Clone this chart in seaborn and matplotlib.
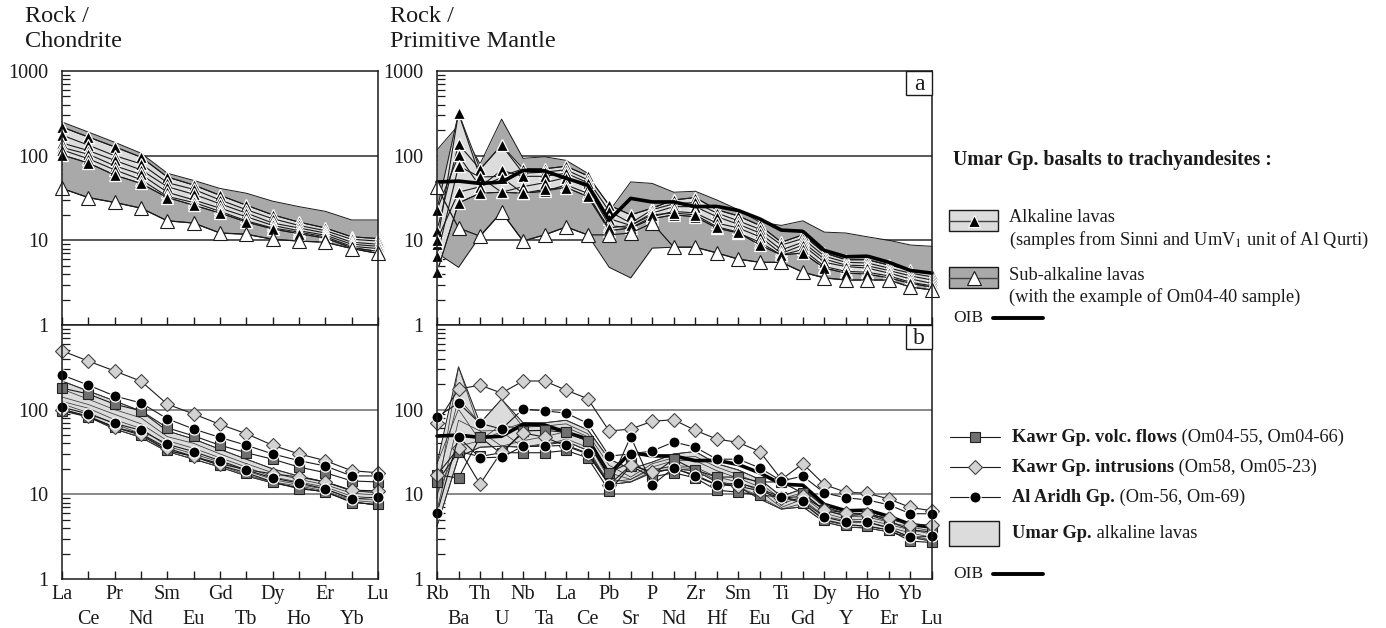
import numpy as np
import matplotlib
matplotlib.use("Agg")
import matplotlib.pyplot as plt
import seaborn as sns
from matplotlib.patches import Rectangle
from matplotlib.ticker import LogLocator, NullFormatter, FixedLocator

sns.set_theme(style="white")
plt.rcParams["font.family"] = ["Liberation Serif", "DejaVu Serif"]
plt.rcParams["mathtext.fontset"] = "stix"

# ---------------------------------------------------------------- elements
REE = ["La", "Ce", "Pr", "Nd", "Sm", "Eu", "Gd", "Tb", "Dy", "Ho", "Er", "Yb", "Lu"]
PM = ["Rb", "Ba", "Th", "U", "Nb", "Ta", "La", "Ce", "Pb", "Sr", "P", "Nd",
      "Zr", "Hf", "Sm", "Eu", "Ti", "Gd", "Dy", "Y", "Ho", "Er", "Yb", "Lu"]

# ------------------------------------------- Umar Gp. alkaline lavas (REE / chondrite)
umar_alk_ree_1 = [218, 166, 127, 96, 56, 45, 34, 26, 20, 16.4, 14.0, 11.0, 10.5]
umar_alk_ree_2 = [175, 133, 100, 80, 48, 40, 30, 23, 18, 15.0, 13.0, 10.3, 9.8]
umar_alk_ree_3 = [141, 115, 88, 68, 43, 35, 27, 21, 16, 14.0, 12.2, 9.5, 9.0]
umar_alk_ree_4 = [125, 104, 76, 60, 37, 30, 24, 19, 15, 13.0, 11.5, 9.0, 8.5]
umar_alk_ree_5 = [117, 92, 68, 52, 33, 28, 22, 17, 14, 12.5, 11.0, 8.5, 8.0]
umar_alk_ree_6 = [102, 82, 59, 47, 32, 26, 21, 16.5, 13.6, 12.0, 10.6, 8.2, 7.4]

# ------------------------------------------- Umar Gp. sub-alkaline lavas (REE)
om04_40_ree = [41, 32, 28, 24, 17, 16, 12.2, 11.8, 10.3, 9.8, 9.5, 8.0, 7.0]
subalk_ree_top = [250, 190, 144, 107, 62, 51, 41, 36, 29, 25, 22, 17.4, 17.4]

# ------------------------------------------- Umar Gp. alkaline lavas (primitive mantle)
umar_alk_pm_1 = [9, 320, 56, 57, 70, 70, 75, 58, 26, 20, 24, 30, 32, 23, 19.4, 15, 9.5, 11.6, 7.1, 5.9, 5.9, 5.1, 4.5, 4.0]
umar_alk_pm_2 = [13, 137, 69, 133, 62, 64, 68, 52, 22, 16, 23, 27, 28, 21, 17, 13.5, 8.8, 10.5, 6.5, 5.5, 5.4, 4.7, 4.1, 3.7]
umar_alk_pm_3 = [23, 101, 43, 67, 57, 57, 62, 48, 18, 15, 21, 25, 25, 19, 15.5, 12.2, 7.7, 9.5, 6.0, 5.1, 5.0, 4.4, 3.8, 3.4]
umar_alk_pm_4 = [6.5, 75, 56, 37, 43, 48, 55, 42, 15, 14, 19, 22, 21, 16, 14, 11, 7.0, 8.8, 5.5, 4.9, 4.7, 4.1, 3.5, 3.1]
umar_alk_pm_5 = [10, 37, 43, 55, 36, 38, 45, 36, 13, 14, 18, 20, 19, 14, 12.2, 9.5, 6.7, 7.8, 4.9, 4.3, 4.2, 3.8, 3.2, 2.9]
umar_alk_pm_6 = [4.2, 27.6, 36, 37, 36, 40, 42, 33, 14, 15, 20, 21, 20, 14.5, 12.5, 8.8, 6.7, 7.1, 4.7, 4.1, 4.0, 3.6, 3.1, 2.8]

# ------------------------------------------- Umar Gp. sub-alkaline lavas (PM)
om04_40_pm = [43, 14, 11.2, 21.6, 9.8, 11.6, 14.4, 11.6, 11.6, 12.2, 16, 8.3, 8.3, 7.1, 6.0, 5.5, 5.5, 4.2, 3.6, 3.4, 3.4, 3.4, 2.8, 2.6]
subalk_pm_top = [117, 230, 80, 270, 93, 97, 88, 62, 22, 49, 47, 37, 38, 30, 23, 16.4, 15, 17, 12.5, 12.2, 11, 10, 8.8, 8.5]
subalk_pm_bottom = [7.1, 4.8, 11.2, 21.6, 9.8, 11.6, 14.4, 11.6, 4.8, 3.6, 8.1, 8.3, 8.3, 7.1, 6.0, 5.5, 5.5, 4.2, 3.6, 3.4, 3.4, 3.4, 2.8, 2.6]

# ------------------------------------------- OIB (primitive-mantle normalised)
oib_pm = [48.8, 50.1, 47.0, 48.6, 67, 66, 54, 45, 17.3, 31.3, 28.4, 28.4, 25, 25.2, 22.5, 17.9, 13.2, 12.8, 7.6, 6.4, 6.5, 5.5, 4.4, 4.1]

# ------------------------------------------- Kawr Gp. volcanic flows
om04_55_ree = [180, 153, 116, 97, 61, 49, 38, 31, 26, 21, 18, 14.4, 14]
om04_66_ree = [97, 82, 62, 50, 33, 28, 22, 18, 14, 11.6, 10.8, 8.0, 7.6]
om04_55_pm = [17, 15.6, 47.5, 30, 56, 57, 54, 43, 18, 24, 17, 26, 19.4, 16, 16, 14, 14, 10.3, 6.5, 5.6, 5.8, 4.8, 3.8, 3.6]
om04_66_pm = [14, 32, 28, 31, 31, 31, 33, 27, 11, 21.6, 16, 18, 15.6, 11.2, 10.6, 9.8, 9.3, 7.9, 5.0, 4.4, 4.2, 3.8, 2.8, 2.7]

# ------------------------------------------- Kawr Gp. intrusions
om58_ree = [495, 375, 286, 217, 116, 89, 67, 52, 38, 30, 25, 19, 18]
om05_23_ree = [100, 84, 62, 52, 35, 28, 23, 19.5, 17.5, 16, 14, 11.2, 11]
om58_pm = [69, 175, 195, 157, 218, 218, 170, 135, 56, 59, 73, 76, 57, 45, 41, 32, 15, 23, 13, 10.6, 10.3, 8.8, 7.0, 6.4]
om05_23_pm = [17, 35, 13.2, 32, 53, 47.5, 37, 30, 13, 22, 18.4, 20, 17, 13, 12.5, 11, 9.0, 9.5, 6.6, 6.0, 5.8, 5.2, 4.4, 4.3]

# ------------------------------------------- Al Aridh Gp.
om56_ree = [257, 195, 145, 120, 78, 59, 47, 38, 30, 25, 21.6, 16.5, 16.5]
om69_ree = [107, 89, 69, 57, 39, 32, 25, 19.4, 15.6, 13.6, 11.6, 8.8, 9.3]
om56_pm = [82, 120, 69, 59, 102, 97, 91, 69, 28.3, 30, 32.5, 41.5, 36, 26, 26, 20.5, 14.4, 16.4, 10.4, 9.1, 8.6, 7.5, 5.9, 5.9]
om69_pm = [6, 47.5, 27, 27.5, 37, 37, 38, 30.7, 12.9, 48, 12.9, 20.5, 16.4, 12.9, 13.6, 11.6, 9.3, 8.3, 5.4, 4.7, 4.7, 4.0, 3.1, 3.2]

umar_alk_ree = [umar_alk_ree_1, umar_alk_ree_2, umar_alk_ree_3,
                umar_alk_ree_4, umar_alk_ree_5, umar_alk_ree_6]
umar_alk_pm = [umar_alk_pm_1, umar_alk_pm_2, umar_alk_pm_3,
               umar_alk_pm_4, umar_alk_pm_5, umar_alk_pm_6]

# ---------------------------------------------------------------- styles
DARK_BAND = "#a9a9a9"
LIGHT_BAND = "#dcdcdc"
INK = "#1a1a1a"
SQUARE_FILL = "#707070"
DIAMOND_FILL = "#d2d2d2"
TICK_FS = 14.5

W, H = 1386, 628
fig = plt.figure(figsize=(W / 100, H / 100), dpi=100)


def px_axes(x0, y0, x1, y1):
    return fig.add_axes([x0 / W, 1 - y1 / H, (x1 - x0) / W, (y1 - y0) / H])


ax_ree_a = px_axes(62, 71, 378, 325)
ax_pm_a = px_axes(437, 71, 932, 325)
ax_ree_b = px_axes(62, 325, 378, 579)
ax_pm_b = px_axes(437, 325, 932, 579)


def style_axis(ax, names, show_x, yvals, grid_color):
    n = len(names)
    ax.set_yscale("log")
    ax.set_ylim(1, 1000)
    ax.set_xlim(0, n - 1)
    ax.set_facecolor("white")
    for s in ax.spines.values():
        s.set_color(INK)
        s.set_linewidth(1.1)
        s.set_zorder(6)
    # element names on two staggered rows: even positions on the first row,
    # odd positions on the second
    even = list(range(0, n, 2))
    odd = list(range(1, n, 2))
    ax.xaxis.set_major_locator(FixedLocator(even))
    ax.xaxis.set_minor_locator(FixedLocator(odd))
    if show_x:
        ax.set_xticklabels([names[i] for i in even], fontsize=TICK_FS, color=INK)
        ax.set_xticklabels([names[i] for i in odd], minor=True,
                           fontsize=TICK_FS, color=INK)
    else:
        ax.set_xticklabels([])
        ax.set_xticklabels([], minor=True)
    ax.tick_params(axis="x", which="major", direction="in", length=6, width=1.0,
                   pad=4, color=INK, bottom=True, top=False)
    ax.tick_params(axis="x", which="minor", direction="in", length=6, width=1.0,
                   pad=22, color=INK, bottom=True, top=False)
    ax.yaxis.set_major_locator(FixedLocator([1, 10, 100, 1000]))
    ax.set_yticklabels([(str(v) if v in yvals else "") for v in (1, 10, 100, 1000)],
                       fontsize=TICK_FS, color=INK)
    ax.yaxis.set_minor_locator(LogLocator(base=10, subs=range(2, 10)))
    ax.yaxis.set_minor_formatter(NullFormatter())
    ax.tick_params(axis="y", which="major", length=0, pad=10, left=True)
    ax.tick_params(axis="y", which="minor", direction="in", length=6, width=0.9,
                   color=INK, left=True)
    for v in (10, 100):
        ax.axhline(v, color=grid_color, lw=1.1, zorder=0.5)
    ax.grid(False)


def series(ax, vals, **kw):
    x = np.arange(len(vals))
    base = dict(estimator=None, sort=False, legend=False, clip_on=False)
    base.update(kw)
    sns.lineplot(x=x, y=vals, ax=ax, **base)


def band(ax, lo, hi, color, z):
    x = np.arange(len(lo))
    ax.fill_between(x, lo, hi, color=color, lw=0, zorder=z)
    series(ax, lo, color=INK, lw=0.7, zorder=z + 0.1)
    series(ax, hi, color=INK, lw=0.7, zorder=z + 0.1)


def alk_lines(ax, samples, markers=True, z=3):
    for s in samples:
        if markers:
            series(ax, s, color=INK, lw=0.8, marker="^", markersize=8,
                   markerfacecolor="black", markeredgecolor="white",
                   markeredgewidth=0.9, zorder=z)
        else:
            series(ax, s, color="#3a3a3a", lw=0.55, zorder=z)


# ---------------------------------------------------------------- panel a : REE
ax = ax_ree_a
style_axis(ax, REE, False, (1, 10, 100, 1000), "#2a2a2a")
band(ax, om04_40_ree, subalk_ree_top, DARK_BAND, 1)
alk_ree_arr = np.array(umar_alk_ree, dtype=float)
band(ax, alk_ree_arr.min(axis=0), alk_ree_arr.max(axis=0), LIGHT_BAND, 2)
alk_lines(ax, umar_alk_ree)
series(ax, om04_40_ree, color=INK, lw=0.9, marker="^", markersize=9.5,
       markerfacecolor="white", markeredgecolor=INK, markeredgewidth=0.8, zorder=5)

# ---------------------------------------------------------------- panel a : PM
ax = ax_pm_a
style_axis(ax, PM, False, (1, 10, 100, 1000), "#2a2a2a")
band(ax, subalk_pm_bottom, subalk_pm_top, DARK_BAND, 1)
alk_pm_arr = np.array(umar_alk_pm, dtype=float)
band(ax, alk_pm_arr.min(axis=0), alk_pm_arr.max(axis=0), LIGHT_BAND, 2)
alk_lines(ax, umar_alk_pm)
series(ax, oib_pm, color="black", lw=2.6, zorder=3.5)
series(ax, om04_40_pm, color=INK, lw=0.9, marker="^", markersize=9.5,
       markerfacecolor="white", markeredgecolor=INK, markeredgewidth=0.8, zorder=5)


# ---------------------------------------------------------------- panel b
def kawr_volc(ax, vals):
    series(ax, vals, color=INK, lw=0.8, marker="s", markersize=7.5,
           markerfacecolor=SQUARE_FILL, markeredgecolor="#222222",
           markeredgewidth=0.8, zorder=4)


def kawr_intr(ax, vals):
    series(ax, vals, color=INK, lw=0.8, marker="D", markersize=7,
           markerfacecolor=DIAMOND_FILL, markeredgecolor="#444444",
           markeredgewidth=0.8, zorder=4.2)


def al_aridh(ax, vals):
    series(ax, vals, color=INK, lw=0.8, marker="o", markersize=8,
           markerfacecolor="black", markeredgecolor="white",
           markeredgewidth=0.9, zorder=4.4)


ax = ax_ree_b
style_axis(ax, REE, True, (1, 10, 100), "#6a6a6a")
band(ax, alk_ree_arr.min(axis=0), alk_ree_arr.max(axis=0), LIGHT_BAND, 1)
alk_lines(ax, umar_alk_ree, markers=False, z=1.5)
for v in (om04_55_ree, om04_66_ree):
    kawr_volc(ax, v)
for v in (om58_ree, om05_23_ree):
    kawr_intr(ax, v)
for v in (om56_ree, om69_ree):
    al_aridh(ax, v)

ax = ax_pm_b
style_axis(ax, PM, True, (1, 10, 100), "#6a6a6a")
band(ax, alk_pm_arr.min(axis=0), alk_pm_arr.max(axis=0), LIGHT_BAND, 1)
alk_lines(ax, umar_alk_pm, markers=False, z=1.5)
series(ax, oib_pm, color="black", lw=2.6, zorder=3)
for v in (om04_55_pm, om04_66_pm):
    kawr_volc(ax, v)
for v in (om58_pm, om05_23_pm):
    kawr_intr(ax, v)
for v in (om56_pm, om69_pm):
    al_aridh(ax, v)

# ---------------------------------------------------------------- panel tags
for ax, tag in ((ax_pm_a, "a"), (ax_pm_b, "b")):
    bw, bh = 26 / 495, 24 / 254
    ax.add_patch(Rectangle((1 - bw, 1 - bh), bw, bh, transform=ax.transAxes,
                           facecolor="white", edgecolor=INK, lw=1.0, zorder=7,
                           clip_on=False))
    ax.text(1 - bw / 2, 1 - bh / 2 - 0.006, tag, transform=ax.transAxes,
            ha="center", va="center", fontsize=17, color=INK, zorder=8)

# ---------------------------------------------------------------- axis titles
fig.text(25 / W, 1 - 29 / H, "Rock /\nChondrite", ha="left", va="center",
         fontsize=17.5, color=INK, linespacing=1.2)
fig.text(390 / W, 1 - 29 / H, "Rock /\nPrimitive Mantle", ha="left", va="center",
         fontsize=17.5, color=INK, linespacing=1.2)

# ---------------------------------------------------------------- key
lax = fig.add_axes([0, 0, 1, 1], zorder=10)
lax.set_xlim(0, W)
lax.set_ylim(H, 0)
lax.axis("off")
lax.patch.set_alpha(0)

FS_TOP = 13.2
FS_BOT = 13.2


def bold_then_plain(x, y, bold, plain, fs):
    t = lax.text(x, y, bold, fontsize=fs, fontweight="bold", ha="left",
                 va="center", color=INK)
    if plain:
        lax.annotate(plain, xy=(1, 0.5), xycoords=t, ha="left", va="center",
                     fontsize=fs, color=INK)


lax.text(953, 160, "Umar Gp. basalts to trachyandesites :", fontsize=14.2,
         fontweight="bold", ha="left", va="center", color=INK)

for ytop, fill, mfc, l1, l2 in (
        (210, LIGHT_BAND, "black", "Alkaline lavas",
         "(samples from Sinni and UmV$_1$ unit of Al Qurti)"),
        (267, DARK_BAND, "white", "Sub-alkaline lavas",
         "(with the example of Om04-40 sample)")):
    lax.add_patch(Rectangle((949, ytop), 49, 21, facecolor=fill,
                            edgecolor=INK, lw=1.0))
    lax.plot([949, 998], [ytop + 10.5, ytop + 10.5], color="#444444", lw=1.0)
    lax.plot([973.5], [ytop + 10.5], marker="^",
             markersize=9.5 if mfc == "white" else 8.5,
             markerfacecolor=mfc,
             markeredgecolor=INK if mfc == "white" else "white",
             markeredgewidth=0.8)
    lax.text(1009, ytop + 8, l1, fontsize=FS_TOP, ha="left", va="center", color=INK)
    lax.text(1009, ytop + 30, l2, fontsize=FS_TOP, ha="left", va="center", color=INK)

lax.text(953, 318, "OIB", fontsize=12.5, ha="left", va="center", color=INK)
lax.plot([993, 1043], [318, 318], color="black", lw=2.8)

key_rows = (
    (437, "s", SQUARE_FILL, "#222222", 7.5, "Kawr Gp. volc. flows", " (Om04-55, Om04-66)"),
    (467, "D", DIAMOND_FILL, "#444444", 7, "Kawr Gp. intrusions", " (Om58, Om05-23)"),
    (497, "o", "black", "white", 8, "Al Aridh Gp.", " (Om-56, Om-69)"),
)
for y, m, mfc, mec, ms, b, p in key_rows:
    lax.plot([950, 1000], [y, y], color=INK, lw=0.8)
    lax.plot([975], [y], marker=m, markersize=ms, markerfacecolor=mfc,
             markeredgecolor=mec, markeredgewidth=0.8)
    bold_then_plain(1012, y, b, p, FS_BOT)

lax.add_patch(Rectangle((949, 521), 50, 25, facecolor=LIGHT_BAND,
                        edgecolor=INK, lw=1.0))
bold_then_plain(1012, 534, "Umar Gp.", " alkaline lavas", FS_BOT)

lax.text(953, 574, "OIB", fontsize=12.5, ha="left", va="center", color=INK)
lax.plot([993, 1043], [574, 574], color="black", lw=2.8)

fig.savefig("out.png", dpi=100, facecolor="white")
